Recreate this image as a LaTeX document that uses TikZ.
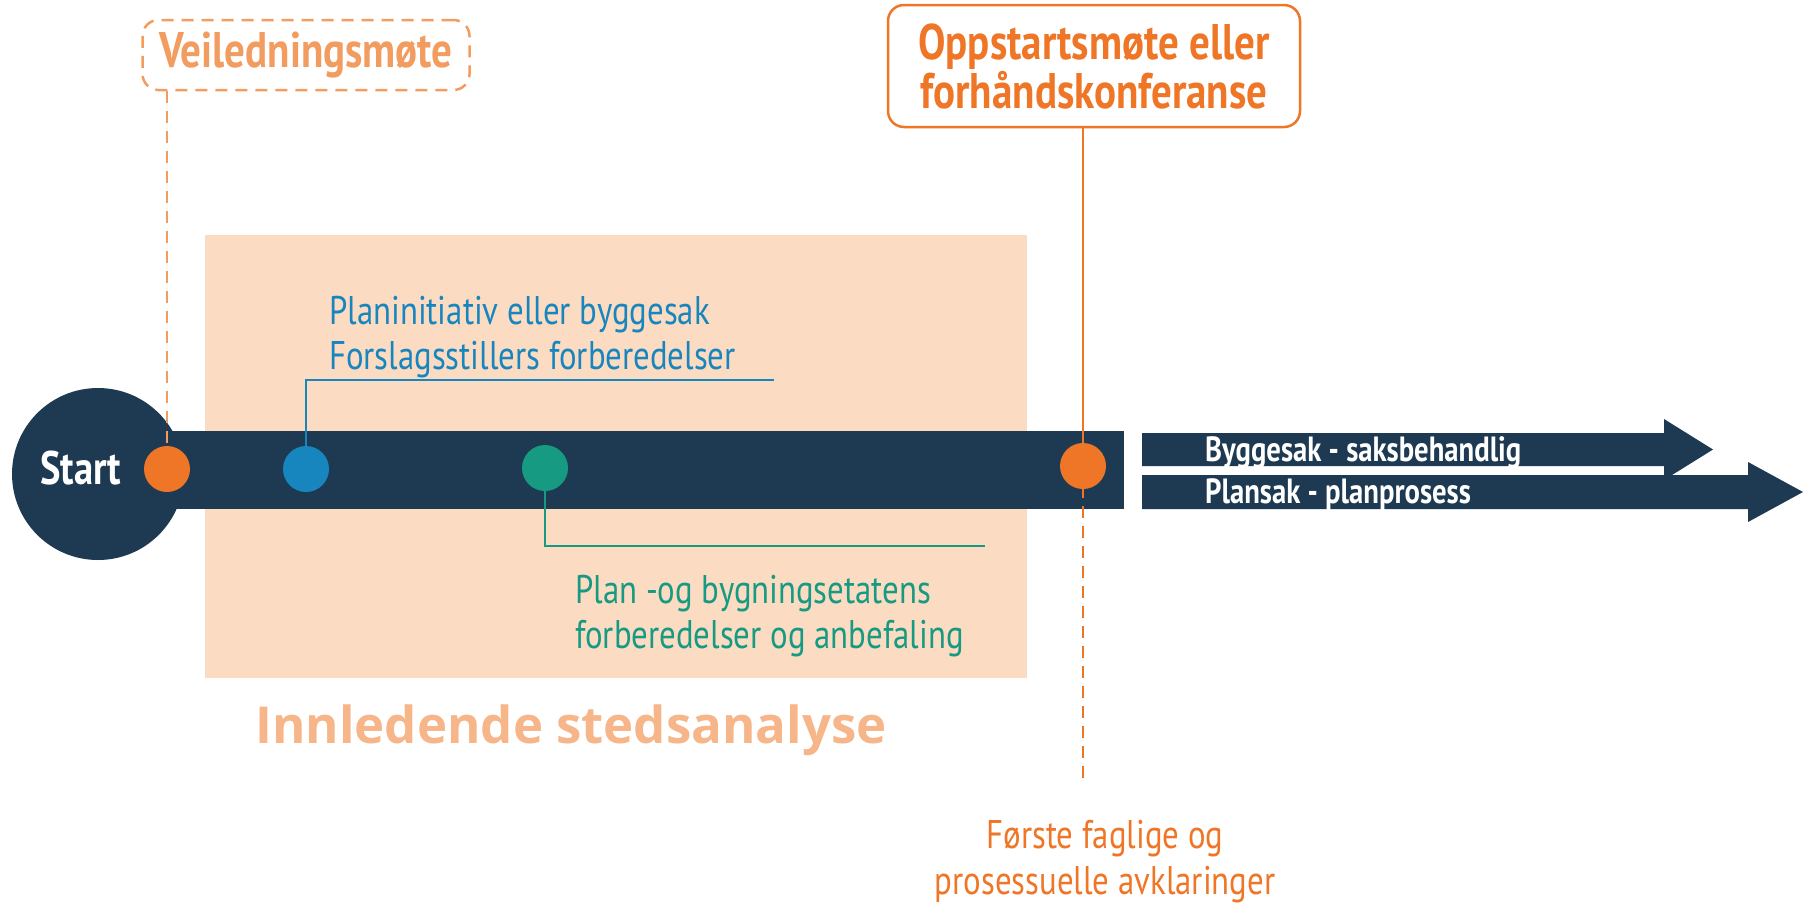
\documentclass[tikz,border=0pt]{standalone}
\usepackage{fontspec}
\setmainfont{PT Sans}
\newfontfamily\condfont{PT Sans}[FakeStretch=0.82]
\newfontfamily\widefont{Open Sans}
\usetikzlibrary{positioning}
\definecolor{navy}{RGB}{30,58,82}
\definecolor{darkorange}{RGB}{238,118,38}
\definecolor{lightorange}{RGB}{242,156,96}
\definecolor{peach}{RGB}{252,219,195}
\definecolor{peachtext}{RGB}{246,182,138}
\definecolor{bluetl}{RGB}{24,134,190}
\definecolor{greentl}{RGB}{22,155,130}
\tikzset
{
    dot/.style      = {circle, inner sep=0pt, minimum size=46pt},
    meetbox/.style  = {rectangle, rounded corners=16pt, line width=2.5pt, align=center, inner sep=0pt, font=\condfont\bfseries\fontsize{50}{49}\selectfont},
    note/.style     = {inner sep=0pt, font=\condfont\fontsize{40}{45}\selectfont},
    link/.style     = {line width=2.5pt},
    dashlink/.style = {line width=2.5pt, dash pattern=on 12pt off 8pt},
    tlarrow/.style  = {fill=navy},
    arrowtext/.style= {text=white, inner sep=0pt, anchor=base west, font=\condfont\bfseries\fontsize{35}{40}\selectfont}
}

\begin{document}
\begin{tikzpicture}[x=1pt, y=-1pt]
	\useasboundingbox (0,0) rectangle (1803,911);
	\fill[peach] (205,235) rectangle (1027,678);
	\node (startc) [circle, fill=navy, minimum size=172pt, inner sep=0pt] at (98,474) {};
	\fill[navy] (98,431) rectangle (1124,509);
	\node (start) [arrowtext, font=\condfont\bfseries\fontsize{47}{50}\selectfont] at (40,484) {Start};

	\node (veil) [meetbox, dashlink, draw=lightorange, text=lightorange, minimum width=327pt, minimum height=70pt] at (306,55) {Veiledningsmøte};
	\node (oppstart) [meetbox, draw=darkorange, text=darkorange, minimum width=412pt, minimum height=122pt] at (1094,66) {Oppstartsmøte eller\\forhåndskonferanse};

	\node (vdot) [dot] at (167,469) {};
	\node (bdot) [dot] at (306,469) {};
	\node (gdot) [dot] at (545,468) {};
	\node (odot) [dot] at (1083,466) {};
	\coordinate (bend) at (774,380);
	\coordinate (gend) at (985,546);
	\coordinate (oend) at (1083,782);

	\draw [dashlink, lightorange] (veil.south -| vdot) -- (vdot.center);
	\draw [link, darkorange] (oppstart.south -| odot) -- (odot.center);
	\draw [dashlink, darkorange] (odot.center) -- (oend);
	\draw [link, bluetl] (bdot.center) |- (bend);
	\draw [link, greentl] (gdot.center) |- (gend);

	\node [dot, fill=darkorange] at (vdot) {};
	\node [dot, fill=bluetl] at (bdot) {};
	\node [dot, fill=greentl] at (gdot) {};
	\node [dot, fill=darkorange] at (odot) {};

	\node (initiativ) [note, text=bluetl, align=left, anchor=south west] at (329,378) {Planinitiativ eller byggesak\\Forslagsstillers forberedelser};
	\node (etat) [note, text=greentl, align=left, anchor=north west] at (575,575) {Plan -og bygningsetatens\\forberedelser og anbefaling};
	\node (analyse) [inner sep=0pt, anchor=base west, text=peachtext, font=\widefont\bfseries\fontsize{51}{55}\selectfont] at (255,743) {Innledende stedsanalyse};
	\node (avkl) [note, text=darkorange, align=center, anchor=north, font=\condfont\fontsize{40}{46}\selectfont] at (1105,820) {Første faglige og\\prosessuelle avklaringer};

	\fill[tlarrow] (1142,433) -- (1664,433) -- (1664,419) -- (1713,449.5) -- (1664,480) -- (1664,466) -- (1142,466) -- cycle;
	\fill[tlarrow] (1142,475) -- (1748,475) -- (1748,462) -- (1803,492) -- (1748,522) -- (1748,509) -- (1142,509) -- cycle;
	\node (bygg) [arrowtext] at (1205,461) {Byggesak - saksbehandlig};
	\node (plan) [arrowtext] at (1205,503) {Plansak - planprosess};
\end{tikzpicture}
\end{document}
